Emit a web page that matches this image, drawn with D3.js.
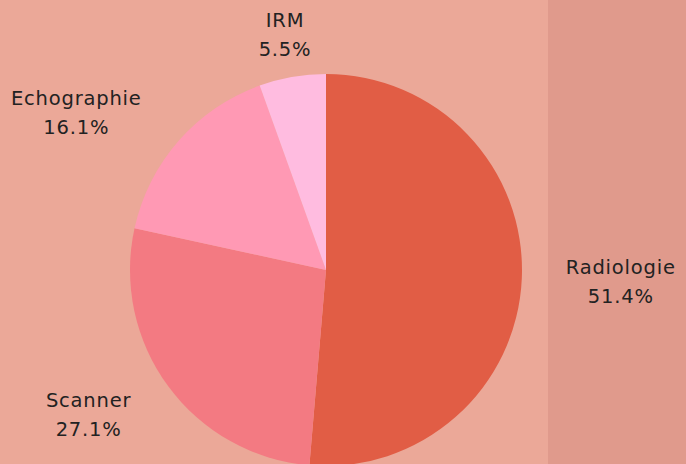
<!DOCTYPE html>
<html><head><meta charset="utf-8">
<script src="https://cdn.jsdelivr.net/npm/d3@7"></script>
<style>html,body{margin:0;padding:0;background:#EBA898;}svg{display:block;}</style>
</head><body>
<svg id="chart" width="686" height="464"></svg>
<script>
const categories = ["Radiologie", "Scanner", "Echographie", "IRM"];
const values = [51.4, 27.1, 16.1, 5.5];
const colors = ["#E15D45", "#F37A82", "#FF99B4", "#FFBCE0"];

const W = 686, H = 464, cx = 326, cy = 270, r = 196, labelR = 295;
const svg = d3.select("#chart");
svg.append("rect").attr("width", W).attr("height", H).attr("fill", "#EBA898");
svg.append("rect").attr("x", 548).attr("width", W - 548).attr("height", H).attr("fill", "#E09A8C");

const data = categories.map((c, i) => ({cat: c, value: values[i], color: colors[i]}));
const pie = d3.pie().sort(null).value(d => d.value);
const arcs = pie(data);
const arc = d3.arc().innerRadius(0).outerRadius(r);

const g = svg.append("g").attr("transform", `translate(${cx},${cy})`);
g.selectAll("path").data(arcs).join("path")
  .attr("d", arc).attr("fill", d => d.data.color);

// label layout: point on circle at mid angle, clamped vertically, spaced on each side
const yMin = 35 - cy, yMax = 415 - cy, gap = 78;
const labels = arcs.map(a => {
  const m = (a.startAngle + a.endAngle) / 2;
  let x = labelR * Math.sin(m), y = -labelR * Math.cos(m);
  let clamped = false;
  if (y < yMin) { x = x * yMin / y; y = yMin; clamped = true; }
  else if (y > yMax) { y = yMax; clamped = true; }
  return {a, x, y, side: x < 0 ? -1 : 1, clamped};
});
[-1, 1].forEach(s => {
  const side = labels.filter(l => l.side === s).sort((p, q) => p.y - q.y);
  for (let i = 1; i < side.length; i++) {
    const prev = side[i - 1], cur = side[i];
    if (cur.y < prev.y + gap && !cur.clamped) {
      cur.y = prev.y + gap;
      cur.x = s * Math.sqrt(Math.max(0, labelR * labelR - cur.y * cur.y));
    }
  }
});

const font = "DejaVu Sans, sans-serif";
const lg = g.selectAll("g.lab").data(labels).join("g")
  .attr("transform", d => `translate(${d.x},${d.y})`);
lg.append("text").attr("text-anchor", "middle").attr("y", -8)
  .attr("font-family", font).attr("font-size", 19.5).attr("letter-spacing", 0.8).attr("fill", "#222")
  .text(d => d.a.data.cat);
lg.append("text").attr("text-anchor", "middle").attr("y", 21)
  .attr("font-family", font).attr("font-size", 19.5).attr("letter-spacing", 0.8).attr("fill", "#222")
  .text(d => d.a.data.value.toFixed(1) + "%");
</script>
</body></html>
